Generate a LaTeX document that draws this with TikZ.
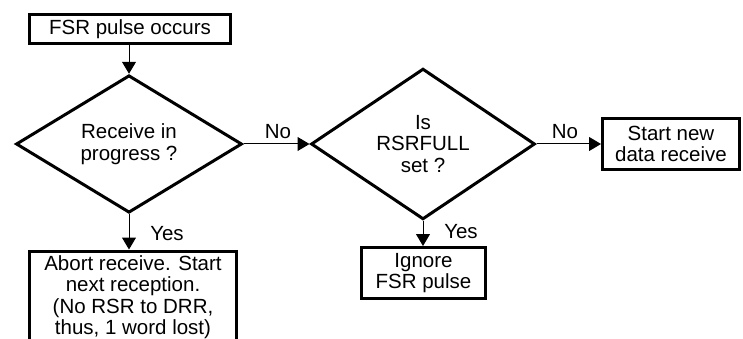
\documentclass[tikz,border=0pt]{standalone}
\usepackage{fontspec}
\setmainfont{Liberation Sans}
\usetikzlibrary{shapes.geometric,arrows.meta}
\newcommand\myfs{\fontsize{20.5}{21.5}\selectfont}
\begin{document}
\begin{tikzpicture}[x=1pt,y=-1pt,
  box/.style={draw,line width=3pt,inner sep=0pt,align=center,font=\myfs},
  dec/.style={draw,diamond,line width=3pt,inner sep=0pt,align=center,font=\myfs},
  arr/.style={line width=1pt,-{Triangle[length=12pt,width=14pt]}},
  lbl/.style={font=\myfs,inner sep=0pt}]
\useasboundingbox (0,0) rectangle (743,339);
\node[box,minimum width=201pt,minimum height=29pt] (fsr) at (130,29) {FSR pulse occurs};
\node[dec,minimum width=226pt,minimum height=124.6pt] (d1) at (129,144) {Receive in\\progress ?};
\node[dec,minimum width=224pt,minimum height=124.6pt] (d2) at (423,144) {Is\\RSRFULL\\set ?};
\node[box,minimum width=137pt,minimum height=51pt] (sn) at (671,144) {Start new\\data receive};
\node[box,minimum width=124pt,minimum height=51pt] (ig) at (423.5,273) {Ignore\\FSR pulse};
\node[box,minimum width=207pt,minimum height=92pt,anchor=north] (ab) at (133,249.5) {Abort receive. Start\\next reception.\\(No RSR to DRR,\\thus, 1 word lost)};
\draw[arr] (fsr.south -| d1.north) -- (d1.north);
\draw[arr] (d1.east) -- (d2.west);
\draw[arr] (d2.east) -- (sn.west);
\draw[arr] (d1.south) -- (d1.south |- ab.north);
\draw[arr] (d2.south) -- (d2.south |- ig.north);
\node[lbl] (no1) at (278,132) {No};
\node[lbl] (no2) at (565,132) {No};
\node[lbl] (yes1) at (167,234) {Yes};
\node[lbl] (yes2) at (461,232) {Yes};
\end{tikzpicture}
\end{document}
